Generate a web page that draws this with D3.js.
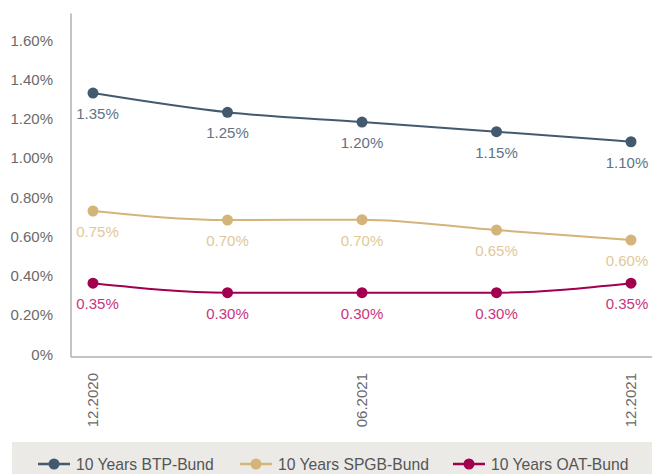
<!DOCTYPE html>
<html>
<head>
<meta charset="utf-8">
<title>10Y spreads vs Bund</title>
<script src="https://cdn.jsdelivr.net/npm/d3@7"></script>
<style>
body { margin: 0; background: #fff; }
svg { display: block; font-family: "Liberation Sans", Arial, sans-serif; }
</style>
</head>
<body>
<div id="chart"></div>
<script>
// data
const periods = ["12.2020", "03.2021", "06.2021", "09.2021", "12.2021"];
const shownTicks = ["12.2020", "06.2021", "12.2021"];
const btp = [1.345, 1.247, 1.197, 1.148, 1.097];
const spgb = [0.744, 0.698, 0.700, 0.647, 0.596];
const oat = [0.376, 0.328, 0.328, 0.328, 0.376];
const btpLabels = ["1.35%", "1.25%", "1.20%", "1.15%", "1.10%"];
const spgbLabels = ["0.75%", "0.70%", "0.70%", "0.65%", "0.60%"];
const oatLabels = ["0.35%", "0.30%", "0.30%", "0.30%", "0.35%"];
const yTicks = [0, 0.2, 0.4, 0.6, 0.8, 1.0, 1.2, 1.4, 1.6];
const names = ["10 Years BTP-Bund", "10 Years SPGB-Bund", "10 Years OAT-Bund"];

const series = [
  {name: names[0], values: btp, labels: btpLabels, color: "#435a6e", labelColor: "#5f7385"},
  {name: names[1], values: spgb, labels: spgbLabels, color: "#d4b478", labelColor: "#e2c898"},
  {name: names[2], values: oat, labels: oatLabels, color: "#a0004e", labelColor: "#c8357d"}
];

const width = 652, height = 474;
const svg = d3.select("#chart").append("svg")
  .attr("width", width).attr("height", height);

const x = d3.scalePoint().domain(periods).range([93, 631]);
const y = d3.scaleLinear().domain([0, 1.75]).range([357, 13.6]);

// axes lines
svg.append("line")
  .attr("x1", 71).attr("x2", 71)
  .attr("y1", y(1.75)).attr("y2", y(0))
  .attr("stroke", "#b0b0b0").attr("stroke-width", 1.5);
svg.append("line")
  .attr("x1", 71).attr("x2", width)
  .attr("y1", y(0)).attr("y2", y(0))
  .attr("stroke", "#b0b0b0").attr("stroke-width", 1.5);

// y tick labels
svg.append("g").selectAll("text")
  .data(yTicks).join("text")
  .attr("x", 53)
  .attr("y", d => y(d) + 2.5)
  .attr("text-anchor", "end")
  .attr("fill", "#6a6a6a")
  .attr("font-size", 15)
  .text(d => d === 0 ? "0%" : d.toFixed(2) + "%");

// x tick labels, rotated
svg.append("g").selectAll("text")
  .data(shownTicks).join("text")
  .attr("transform", d => `translate(${x(d) + 5},373) rotate(-90)`)
  .attr("text-anchor", "end")
  .attr("fill", "#6a6a6a")
  .attr("font-size", 15)
  .text(d => d);

const line = d3.line()
  .x((d, i) => x(periods[i]))
  .y(d => y(d))
  .curve(d3.curveMonotoneX);

series.forEach(s => {
  const g = svg.append("g");
  g.append("path")
    .attr("d", line(s.values))
    .attr("fill", "none")
    .attr("stroke", s.color)
    .attr("stroke-width", 2);
  g.selectAll("circle")
    .data(s.values).join("circle")
    .attr("cx", (d, i) => x(periods[i]))
    .attr("cy", d => y(d))
    .attr("r", 5.5)
    .attr("fill", s.color);
  g.selectAll("text")
    .data(s.values).join("text")
    .attr("x", (d, i) => Math.max(97.5, Math.min(627, x(periods[i]))))
    .attr("y", d => y(d) + 26)
    .attr("text-anchor", "middle")
    .attr("fill", s.labelColor)
    .attr("font-size", 15)
    .text((d, i) => s.labels[i]);
});

// legend
const legend = svg.append("g");
legend.append("rect")
  .attr("x", 12).attr("y", 442)
  .attr("width", width - 12).attr("height", height - 442)
  .attr("fill", "#ebeae6");
const legendX = [38, 240, 453];
series.forEach((s, i) => {
  const lg = legend.append("g").attr("transform", `translate(${legendX[i]},464)`);
  lg.append("line")
    .attr("x1", 0).attr("x2", 32)
    .attr("stroke", s.color).attr("stroke-width", 2.5);
  lg.append("circle")
    .attr("cx", 16).attr("r", 5.5)
    .attr("fill", s.color);
  lg.append("text")
    .attr("x", 38).attr("y", 5.5)
    .attr("fill", "#555")
    .attr("font-size", 15.7)
    .text(s.name);
});
</script>
</body>
</html>
